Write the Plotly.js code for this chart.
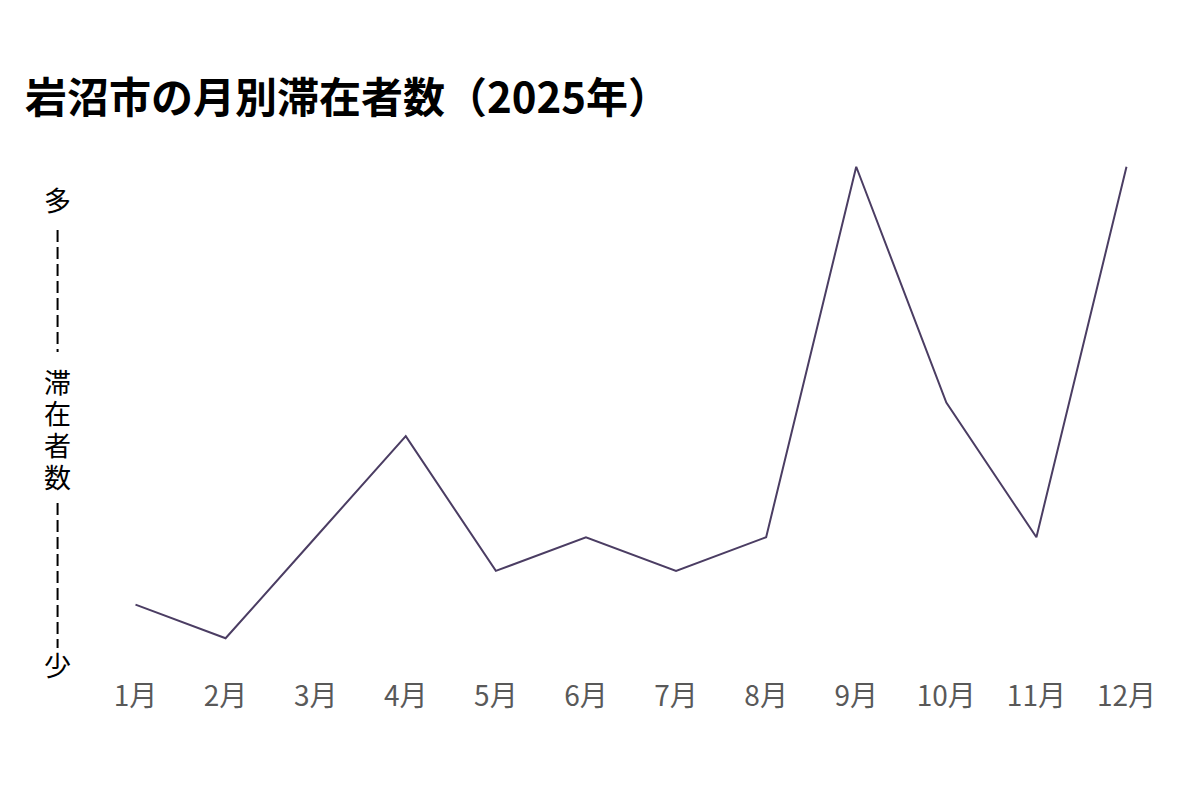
<!DOCTYPE html>
<html>
<head>
<meta charset="utf-8">
<script src="https://cdn.plot.ly/plotly-3.0.1.min.js"></script>
<style>html,body{margin:0;padding:0;background:#fff;}#chart{width:1200px;height:800px;}</style>
</head>
<body>
<div id="chart"></div>
<script>
const months = ["1月","2月","3月","4月","5月","6月","7月","8月","9月","10月","11月","12月"];
const visitors = [1, 0, 3, 6, 2, 3, 2, 3, 14, 7, 3, 14];
const titleText = "岩沼市の月別滞在者数（2025年）";
const yHigh = "多";
const yLow = "少";
const yName = "滞在者数";

const W = 1200, H = 800;
const mL = 130.5, mR = 68.5, mT = 160, mB = 155;
const pw = W - mL - mR, ph = H - mT - mB;
const px = x => (x - mL) / pw;
const py = y => (H - mB - y) / ph;

const font = "'Noto Sans CJK JP', 'Noto Sans', sans-serif";

const trace = {
  x: months, y: visitors, type: "scatter", mode: "lines",
  line: {color: "#4b3d63", width: 2},
  hoverinfo: "skip"
};

const yFont = {family: font, size: 27, color: "#000"};
const annotations = [
  {text: yHigh, xref: "paper", yref: "paper", x: px(57), y: py(199), showarrow: false,
   xanchor: "center", yanchor: "middle", height: 31, font: yFont},
  {text: yLow, xref: "paper", yref: "paper", x: px(57), y: py(664), showarrow: false,
   xanchor: "center", yanchor: "middle", height: 31, font: yFont}
];
const nameY = [381, 412, 444, 476];
yName.split("").forEach((ch, i) => {
  annotations.push({text: ch, xref: "paper", yref: "paper", x: px(57), y: py(nameY[i]), showarrow: false,
    xanchor: "center", yanchor: "middle", height: 30, font: yFont});
});

const layout = {
  width: W, height: H,
  margin: {l: mL, r: mR, t: mT, b: mB},
  paper_bgcolor: "#fff", plot_bgcolor: "#fff",
  showlegend: false,
  title: {
    text: "<b>" + titleText + "</b>",
    x: 25 / W, xref: "container", xanchor: "left",
    y: 1 - 98 / H, yref: "container", yanchor: "middle",
    font: {family: font, size: 42, color: "#000"}
  },
  xaxis: {
    type: "category", range: [-0.05, 11.05],
    showgrid: false, zeroline: false, showline: false,
    ticks: "", ticklabelstandoff: 32,
    tickfont: {family: font, size: 28, color: "#595959"}
  },
  yaxis: {
    range: [-0.2, 14.2],
    showgrid: false, zeroline: false, showline: false,
    showticklabels: false, ticks: ""
  },
  annotations: annotations,
  shapes: [
    {type: "line", xref: "paper", yref: "paper", x0: px(57), x1: px(57), y0: py(230), y1: py(352),
     line: {color: "#000", width: 2, dash: "12px,5px"}},
    {type: "line", xref: "paper", yref: "paper", x0: px(57), x1: px(57), y0: py(503), y1: py(648),
     line: {color: "#000", width: 2, dash: "12px,5px"}}
  ]
};

Plotly.newPlot("chart", [trace], layout, {displayModeBar: false, staticPlot: true});
</script>
</body>
</html>
